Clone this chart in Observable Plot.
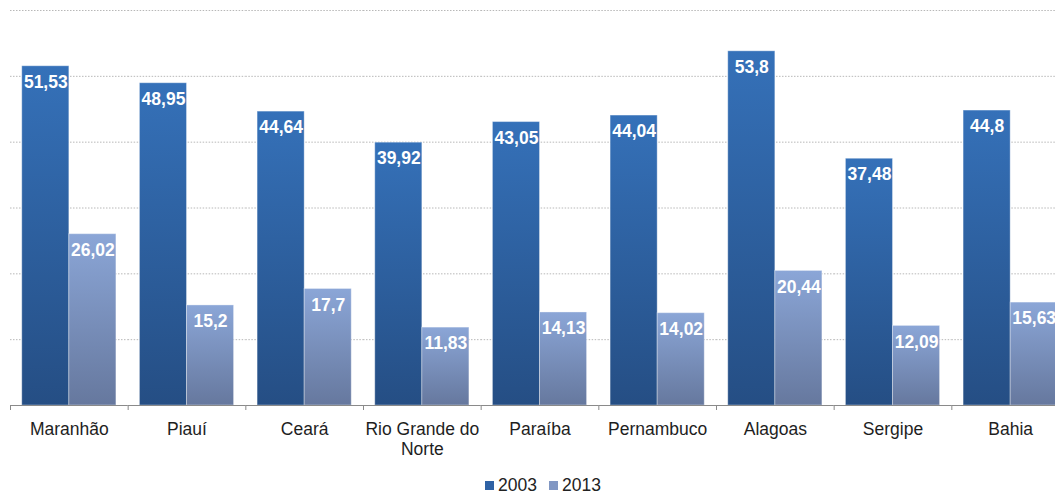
<!DOCTYPE html>
<html>
<head>
<meta charset="utf-8">
<script src="https://cdn.jsdelivr.net/npm/d3@7"></script>
<script src="https://cdn.jsdelivr.net/npm/@observablehq/plot@0.6"></script>
<style>
  html, body { margin: 0; padding: 0; background: #fff; overflow: hidden; }
  #wrap { width: 1055px; overflow: hidden; font-family: "Liberation Sans", Arial, sans-serif; }
  #chart svg { display: block; max-width: none; overflow: hidden; }
  #legend { display: flex; justify-content: center; align-items: center; padding-left: 31px; margin-top: 3px;
            font-size: 17.5px; line-height: 20px; color: #222; }
  .item { display: flex; align-items: center; margin: 0 6px; }
  .sw { width: 9px; height: 9px; margin-right: 4px; }
</style>
</head>
<body>
<div id="wrap">
  <div id="chart"></div>
  <div id="legend"></div>
</div>
<script>
const states = ["Maranhão", "Piauí", "Ceará", "Rio Grande do Norte", "Paraíba", "Pernambuco", "Alagoas", "Sergipe", "Bahia"];
const years = ["2003", "2013"];
const values2003 = [51.53, 48.95, 44.64, 39.92, 43.05, 44.04, 53.8, 37.48, 44.8];
const values2013 = [26.02, 15.2, 17.7, 11.83, 14.13, 14.02, 20.44, 12.09, 15.63];
const gridTicks = [10, 20, 30, 40, 50, 60];
const gradTop = {"2003": "#3571b9", "2013": "#8ba6d7"};
const gradBottom = {"2003": "#254e84", "2013": "#66789e"};
const swatch = {"2003": "#2f62a5", "2013": "#8197c3"};

const data = [];
states.forEach((s, i) => {
  data.push({state: s, year: "2003", value: values2003[i]});
  data.push({state: s, year: "2013", value: values2013[i]});
});

const W = 1070, ML = 10, MR = 1;
const step = (W - ML - MR) / states.length;
const font = "Liberation Sans, Arial, sans-serif";

const defs = () => {
  const d = d3.create("svg:defs");
  years.forEach(y => {
    const g = d.append("linearGradient").attr("id", "g" + y).attr("x1", 0).attr("y1", 0).attr("x2", 0).attr("y2", 1);
    g.append("stop").attr("offset", "0%").attr("stop-color", gradTop[y]);
    g.append("stop").attr("offset", "100%").attr("stop-color", gradBottom[y]);
  });
  return d.node();
};

const plot = Plot.plot({
  width: W,
  height: 472,
  marginLeft: ML,
  marginRight: MR,
  marginTop: 10,
  marginBottom: 67,
  style: {fontFamily: font, background: "#fff"},
  fx: {domain: states, padding: 0, round: false, label: null},
  x: {domain: years, paddingInner: 0, paddingOuter: 0.25, round: false, axis: null},
  y: {domain: [0, 60], axis: null},
  marks: [
    defs,
    Plot.gridY(gridTicks, {stroke: "#b8b8b8", strokeOpacity: 1, strokeDasharray: "1.5,1.5"}),
    Plot.barY(data, {fx: "state", x: "year", y: "value", fill: d => `url(#g${d.year})`, stroke: "#ffffff", strokeOpacity: 0.35, strokeWidth: 1}),
    Plot.text(data, {fx: "state", x: "year", y: "value", text: d => String(d.value).replace(".", ","),
      fill: "white", fontWeight: "bold", fontSize: 17.5, dy: 16, lineAnchor: "middle"}),
    Plot.ruleY([0], {stroke: "#8a8a8a", strokeWidth: 1.2}),
    Plot.axisFx({anchor: "bottom", tickSize: 0, tickPadding: 16, fontSize: 17.5, lineWidth: 7.2, lineHeight: 1.12, fill: "#1e1e1e", label: null}),
    Plot.axisFx({anchor: "bottom", text: null, tickSize: 5, dx: -step / 2, stroke: "#8a8a8a", label: null})
  ]
});
document.getElementById("chart").appendChild(plot);

const legend = document.getElementById("legend");
years.forEach(y => {
  const it = document.createElement("div");
  it.className = "item";
  it.innerHTML = `<span class="sw" style="background:${swatch[y]}"></span><span>${y}</span>`;
  legend.appendChild(it);
});
</script>
</body>
</html>
